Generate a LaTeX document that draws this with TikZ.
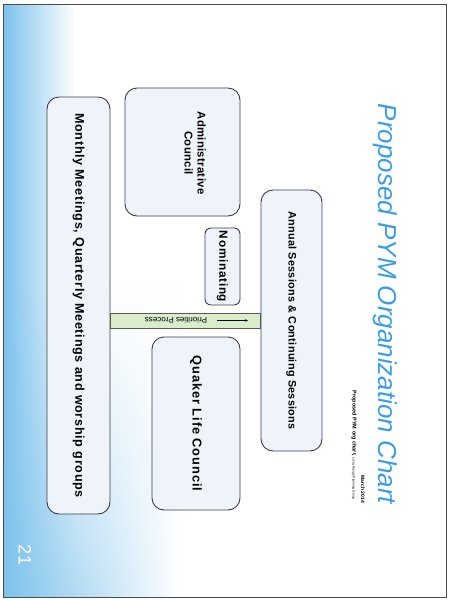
\documentclass[tikz,border=0pt]{standalone}
\usepackage{fontspec}
\usepackage{graphicx}
\setmainfont{Liberation Sans}
\usetikzlibrary{arrows.meta,fadings,calc}
\definecolor{sky}{HTML}{7CC2EC}
\definecolor{boxfill}{HTML}{EFF4FA}
\definecolor{boxline}{HTML}{3C3C4A}
\definecolor{titleblue}{HTML}{3C9EE2}
\definecolor{bandgreen}{HTML}{D9EDCD}
\tikzset{
  orgbox/.style={draw=boxline, fill=boxfill, line width=0.9pt, rounded corners=12pt,
    inner sep=0pt, align=center},
  smallbox/.style={orgbox, rounded corners=6pt},
  boxtext/.style={inner sep=0pt, font=\bfseries},
}
\newcommand{\rot}[1]{\rotatebox{-90}{#1}}
\newcommand{\fs}[1]{\fontsize{#1}{#1}\selectfont}
\newcommand{\ls}[2]{\fontsize{#1}{#1}\selectfont\addfontfeatures{LetterSpace=#2}}
\begin{document}
\begin{tikzpicture}[x=1pt,y=-1pt]
\useasboundingbox (0,0) rectangle (451,600);
\fill[white] (0,0) rectangle (451,600);
% background gradient
\shade[left color=sky, right color=white] (3,4) rectangle (75,597);
\shade[left color=sky, right color=white, path fading=north] (3,280) rectangle (180,597);
\draw[gray!60!black, line width=0.9pt] (3.5,4) rectangle (446.5,597.5);
% title
\node (title) at (385,304) {\rot{\color{titleblue}\itshape\fs{26}Proposed PYM Organization Chart}};
\node[anchor=south, inner sep=0pt] (sub) at (354,500) {\rot{\fs{5.5}\bfseries Proposed PYM org chart, {\mdseries\fs{3.3}Long Range Planning Group}}};
\node[anchor=south, inner sep=0pt] (date) at (363,503) {\rot{\fs{5}\bfseries March 2014}};
% boxes
\node[orgbox, minimum width=61pt, minimum height=261pt] (annual) at (291.5,320.5) {\rot{\bfseries\ls{10.8}{3}Annual Sessions \& Continuing Sessions}};
\node[orgbox, minimum width=115pt, minimum height=128pt] (admin) at (182.5,152) {};
\node[boxtext] (admintext) at (193.5,153) {\rot{\begin{tabular}{@{}c@{}}\ls{11.3}{3}Administrative\\[1pt]\ls{11.3}{3}Council\end{tabular}}};
\node[smallbox, minimum width=35pt, minimum height=77pt] (nom) at (222.5,266.5) {\rot{\bfseries\ls{11.8}{6}Nominating}};
\node[orgbox, minimum width=88pt, minimum height=173pt] (quaker) at (196,423.5) {\rot{\bfseries\ls{12.8}{7}Quaker Life Council}};
\node[orgbox, minimum width=63pt, minimum height=417pt] (monthly) at (78.5,305.5) {\rot{\bfseries\ls{12.6}{5.5}Monthly Meetings, Quarterly Meetings and worship groups}};
% priorities band
\draw[fill=bandgreen, draw=gray!70!black, line width=0.5pt] ($(monthly.east|-annual.west)+(0,-7.5)$) rectangle ($(annual.west)+(0,7.5)$);
\node (prio) at (176,320.5) {\rotatebox{180}{\fs{8}Priorities Process}};
\coordinate (pa) at (217,320.5);
\coordinate (pb) at (248,320.5);
\draw[-{Stealth[length=3pt,width=2.5pt]}, line width=0.6pt] (pa) -- (pb);
% slide number
\node[text=white] (num) at (25,555) {\rot{\fs{18}21}};
\end{tikzpicture}
\end{document}
